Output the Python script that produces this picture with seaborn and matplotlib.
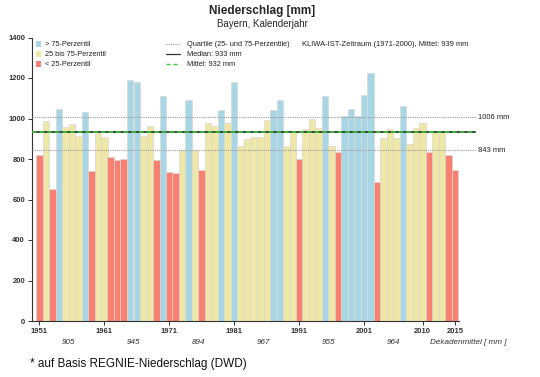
import numpy as np
import pandas as pd
import matplotlib
matplotlib.use("Agg")
import matplotlib.pyplot as plt
import matplotlib.transforms as mtransforms
from matplotlib.patches import Rectangle
from matplotlib.lines import Line2D
import seaborn as sns

# ---------------- data ----------------
years = list(range(1951, 2016))
precip = [818, 990, 652, 1045, 958, 971, 913, 1034, 742, 930,
          910, 811, 795, 802, 1190, 1180, 912, 963, 797, 1109,
          736, 732, 846, 1090, 846, 744, 979, 963, 1042, 976,
          1180, 862, 899, 907, 908, 991, 1044, 1091, 862, 938,
          802, 946, 1000, 951, 1109, 864, 835, 1010, 1048, 1010,
          1114, 1226, 686, 905, 950, 902, 1062, 872, 951, 979,
          836, 933, 933, 818, 744]
q25 = 843
q75 = 1006
median_val = 933
mean_val = 932
tick_years = [1951, 1961, 1971, 1981, 1991, 2001, 2010, 2015]
decade_means = [905, 945, 894, 967, 955, 964]
decade_centers = [1955.5, 1965.5, 1975.5, 1985.5, 1995.5, 2005.5]
class_labels = ["> 75-Perzentil", "25 bis 75-Perzentil", "< 25-Perzentil"]
class_colors = ["#a9d6e5", "#efe7a6", "#f78070"]

classes = [class_labels[0] if v > q75 else (class_labels[2] if v < q25 else class_labels[1])
           for v in precip]
df = pd.DataFrame({"Jahr": years, "Niederschlag": precip, "Klasse": classes})

# ---------------- figure ----------------
sns.set_style("white")
plt.rcParams["font.family"] = ["Liberation Sans", "DejaVu Sans"]
W, H = 540, 377
fig = plt.figure(figsize=(W / 100, H / 100), dpi=100)

def fx(px):
    return px / W

def fy(py):
    return 1 - py / H

ax_l, ax_r, ax_t, ax_b = 32, 476, 37.5, 321
ax = fig.add_axes([fx(ax_l), fy(ax_b), fx(ax_r - ax_l), (ax_b - ax_t) / H])

sns.barplot(data=df, x="Jahr", y="Niederschlag", hue="Klasse",
            palette=dict(zip(class_labels, class_colors)), hue_order=class_labels,
            order=years, dodge=False, width=1.0, edgecolor="#d8d8d8", linewidth=0.5,
            legend=False, ax=ax, saturation=1)

bar_px = 6.5
x0 = -0.5 - 4 / bar_px
x1 = x0 + (ax_r - ax_l) / bar_px
ax.set_xlim(x0, x1)
ax.set_ylim(0, 1400)

# reference lines
ax.axhline(q75, color="#9a9a9a", ls=(0, (1, 1)), lw=0.8, zorder=3)
ax.axhline(q25, color="#9a9a9a", ls=(0, (1, 1)), lw=0.8, zorder=3)
ax.axhline(median_val, color="#2f3a2f", ls="-", lw=1.3, zorder=4)
ax.axhline(mean_val, color="#3ccf3c", ls=(0, (3, 2)), lw=1.1, zorder=5)

trans_r = mtransforms.blended_transform_factory(ax.transAxes, ax.transData)
ax.text(1.004, q75, f"{q75} mm", transform=trans_r, fontsize=5.5, va="center", ha="left",
        color="#222222")
ax.text(1.004, q25, f"{q25} mm", transform=trans_r, fontsize=5.5, va="center", ha="left",
        color="#222222")

# axes styling
for s in ["top", "right"]:
    ax.spines[s].set_visible(False)
for s in ["left", "bottom"]:
    ax.spines[s].set_color("#333333")
    ax.spines[s].set_linewidth(0.8)
ax.spines["bottom"].set_bounds(x0, 64.6)
ax.set_yticks(range(0, 1401, 200))
ax.set_yticklabels([str(v) for v in range(0, 1401, 200)], fontsize=5.5, fontweight="bold",
                   color="#333333")
ax.set_xticks([y - 1951 for y in tick_years])
ax.set_xticklabels([str(y) for y in tick_years], fontsize=5.5, fontweight="bold", color="#333333")
ax.tick_params(axis="both", direction="out", length=3, width=0.7, color="#333333", pad=2,
               left=True, bottom=True)
ax.set_xlabel("")
ax.set_ylabel("")

# decade means
trans_b = mtransforms.blended_transform_factory(ax.transData, ax.transAxes)
yb = -(343 - ax_b) / (ax_b - ax_t)
for c, m in zip(decade_centers, decade_means):
    ax.text(c - 1951, yb, str(m), transform=trans_b, fontsize=5.8, style="italic",
            ha="center", va="center", color="#333333")
ax.text(fx(430), fy(343), "Dekadenmittel [ mm ]", fontsize=5.9, style="italic",
        ha="left", va="center", color="#333333", transform=fig.transFigure)

# titles
fig.text(fx(262), fy(11), "Niederschlag [mm]", fontsize=8.5, fontweight="bold",
         ha="center", va="center")
fig.text(fx(262), fy(24), "Bayern, Kalenderjahr", fontsize=7, ha="center", va="center")

# legend column 1
rows = [44, 54, 64]
for ypix, lab, col in zip(rows, class_labels, class_colors):
    fig.add_artist(Rectangle((fx(36), fy(ypix + 2.5)), fx(5), 5 / H, facecolor=col,
                             edgecolor="none", transform=fig.transFigure))
    fig.text(fx(45), fy(ypix), lab, fontsize=5.3, va="center", ha="left", color="#222222")

# legend column 2
line_specs = [dict(color="#9a9a9a", ls=(0, (1, 1)), lw=0.8),
              dict(color="#333333", ls="-", lw=0.9),
              dict(color="#3ccf3c", ls=(0, (3, 2)), lw=1.0)]
line_labels = ["Quartile (25- und 75-Perzentile)", f"Median: {median_val} mm",
               f"Mittel: {mean_val} mm"]
for ypix, lab, spec in zip(rows, line_labels, line_specs):
    fig.add_artist(Line2D([fx(166), fx(180)], [fy(ypix), fy(ypix)],
                          transform=fig.transFigure, **spec))
    fig.text(fx(187), fy(ypix), lab, fontsize=5.3, va="center", ha="left", color="#222222")

fig.text(fx(302), fy(44), "KLIWA-IST-Zeitraum (1971-2000), Mittel: 939 mm", fontsize=5.4,
         va="center", ha="left", color="#222222")

# footnote
fig.text(fx(30), fy(364), "* auf Basis REGNIE-Niederschlag (DWD)", fontsize=8.5,
         va="center", ha="left", color="#111111")

fig.savefig("out.png", dpi=100)
